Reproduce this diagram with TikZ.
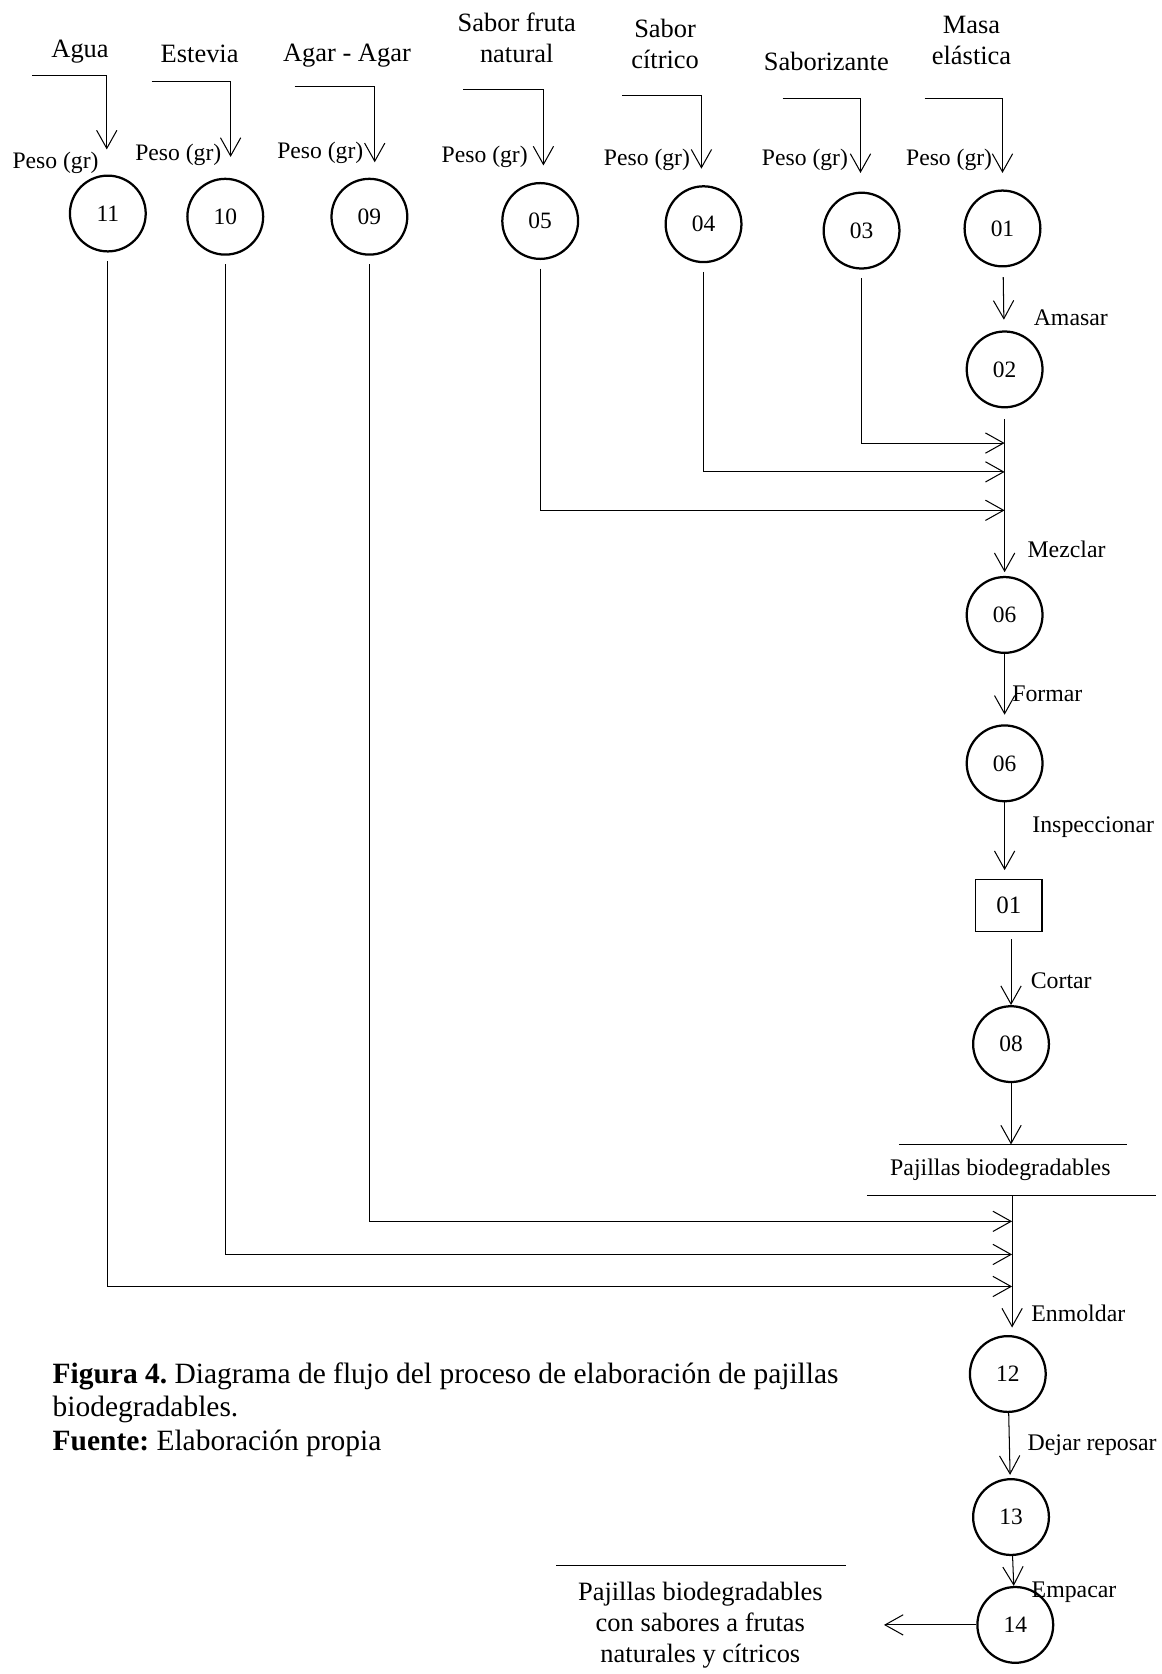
\documentclass[tikz,border=0pt]{standalone}
\usepackage{fontspec}
\setmainfont{Liberation Serif}
\usetikzlibrary{arrows.meta}
\frenchspacing

\begin{document}
\begin{tikzpicture}[x=0.02cm,y=-0.02cm,
	>={Straight Barb[length=3.4mm,width=3.8mm]},
	linea/.style={line width=0.55pt},
	op/.style={circle,draw,line width=1.2pt,minimum size=1.42cm,inner sep=0pt,font=\fontsize{12.5}{15}\selectfont},
	insp/.style={rectangle,draw,line width=0.55pt,minimum width=1.24cm,minimum height=0.98cm,inner sep=0pt,font=\fontsize{13.3}{16}\selectfont},
	insumo/.style={align=center,inner sep=0pt,font=\fontsize{14.1}{16.5}\selectfont},
	peso/.style={inner sep=0pt,font=\fontsize{12.6}{15}\selectfont},
	accion/.style={inner sep=0pt,font=\fontsize{12.7}{15}\selectfont}]
	\useasboundingbox (0,0) rectangle (1088,1568);

	% insumos
	\node[insumo] (agua) at (75,48) {Agua};
	\node[insumo] (estevia) at (187,50) {Estevia};
	\node[insumo] (agar) at (325,52) {Agar - Agar};
	\node[insumo] (fruta) at (484,35) {Sabor fruta\\natural};
	\node[insumo] (citrico) at (623,41) {Sabor\\cítrico};
	\node[insumo] (saborizante) at (774,58) {Saborizante};
	\node[insumo] (masa) at (910,38) {Masa\\elástica};

	\node[peso] (peso11) at (52,153) {Peso (gr)};
	\node[peso] (peso10) at (167,145) {Peso (gr)};
	\node[peso] (peso09) at (300,143) {Peso (gr)};
	\node[peso] (peso05) at (454,147) {Peso (gr)};
	\node[peso] (peso04) at (606,150) {Peso (gr)};
	\node[peso] (peso03) at (754,150) {Peso (gr)};
	\node[peso] (peso01) at (889,150) {Peso (gr)};

	% operaciones
	\node[op] (op11) at (101,200) {11};
	\node[op] (op10) at (211,203) {10};
	\node[op] (op09) at (346,203) {09};
	\node[op] (op05) at (506,207) {05};
	\node[op] (op04) at (659,210) {04};
	\node[op] (op03) at (807,216) {03};
	\node[op] (op01) at (939,214) {01};
	\node[op] (op02) at (941,346) {02};
	\node[op] (op06a) at (941,576) {06};
	\node[op] (op06b) at (941,715) {06};
	\node[insp] (insp01) at (945,848) {01};
	\node[op] (op08) at (947,978) {08};
	\node[op] (op12) at (944,1287) {12};
	\node[op] (op13) at (947,1421) {13};
	\node[op] (op14) at (951,1522) {14};

	\node[accion] (amasar) at (1003,298) {Amasar};
	\node[accion] (mezclar) at (999,515) {Mezclar};
	\node[accion] (formar) at (981,650) {Formar};
	\node[accion] (inspeccionar) at (1024,775) {Inspeccionar};
	\node[accion] (cortar) at (994,919) {Cortar};
	\node[accion] (enmoldar) at (1010,1230) {Enmoldar};
	\node[accion] (reposar) at (1023,1354) {Dejar reposar};
	\node[accion] (empacar) at (1006,1491) {Empacar};

	% entradas
	\coordinate (in11) at (30,71);   \coordinate (pt11) at (100,140);
	\coordinate (in10) at (142,76);  \coordinate (pt10) at (216,147);
	\coordinate (in09) at (276,81);  \coordinate (pt09) at (351,152);
	\coordinate (in05) at (434,84);  \coordinate (pt05) at (509,155);
	\coordinate (in04) at (583,89);  \coordinate (pt04) at (657,158);
	\coordinate (in03) at (733,92);  \coordinate (pt03) at (806,162);
	\coordinate (in01) at (866,92);  \coordinate (pt01) at (939,162);
	\foreach \n in {11,10,09,05,04,03,01}
		\draw[linea,->] (in\n) -| (pt\n);

	% uniones con la linea principal
	\coordinate (m03) at (941,415);
	\coordinate (m04) at (941,442);
	\coordinate (m05) at (941,478);
	\coordinate (m09) at (948,1144);
	\coordinate (m10) at (948,1175);
	\coordinate (m11) at (948,1205);
	\foreach \n in {03,04,05,09,10,11}
		\draw[linea,->,shorten <=0.16cm] (op\n) |- (m\n);

	% producto intermedio
	\coordinate (pj1) at (947,1072);
	\coordinate (pj2) at (948,1120);
	\node[accion] (pajillas) at (937,1096) {Pajillas biodegradables};
	\draw[linea] (842,1072) -- (1056,1072);
	\draw[linea] (812,1120) -- (1083,1120);

	% salida
	\coordinate (sal) at (828,1522);
	\node[insumo] (final) at (656,1522) {Pajillas biodegradables\\con sabores a frutas\\naturales y cítricos};
	\draw[linea] (521,1466) -- (792,1466);

	% flujo principal
	\draw[linea,->,shorten <=0.18cm,shorten >=0.2cm] (op01) -- (op02);
	\draw[linea,->,shorten <=0.2cm,shorten >=0.07cm] (op02) -- (op06a);
	\draw[linea,->,shorten >=0.18cm] (op06a) -- (op06b);
	\draw[linea,->,shorten >=0.16cm] (op06b) -- (op06b |- insp01.north);
	\draw[linea,->,shorten <=0.14cm] (insp01.south -| op08) -- (op08);
	\draw[linea,->] (op08) -- (pj1);
	\draw[linea,->,shorten >=0.14cm] (pj2) -- (pj2 |- op12.north);
	\draw[linea,->,shorten >=0.06cm] (op12) -- (op13);
	\draw[linea,->] (op13) -- (op14);
	\draw[linea,->] (op14) -- (sal);

	% nota
	\node[align=left,inner sep=0pt,anchor=north west,font=\fontsize{15.7}{17.9}\selectfont] (nota) at (49,1276)
		{\textbf{Figura 4.} Diagrama de flujo del proceso de elaboración de pajillas\\biodegradables.\\\textbf{Fuente:} Elaboración propia};
\end{tikzpicture}
\end{document}
